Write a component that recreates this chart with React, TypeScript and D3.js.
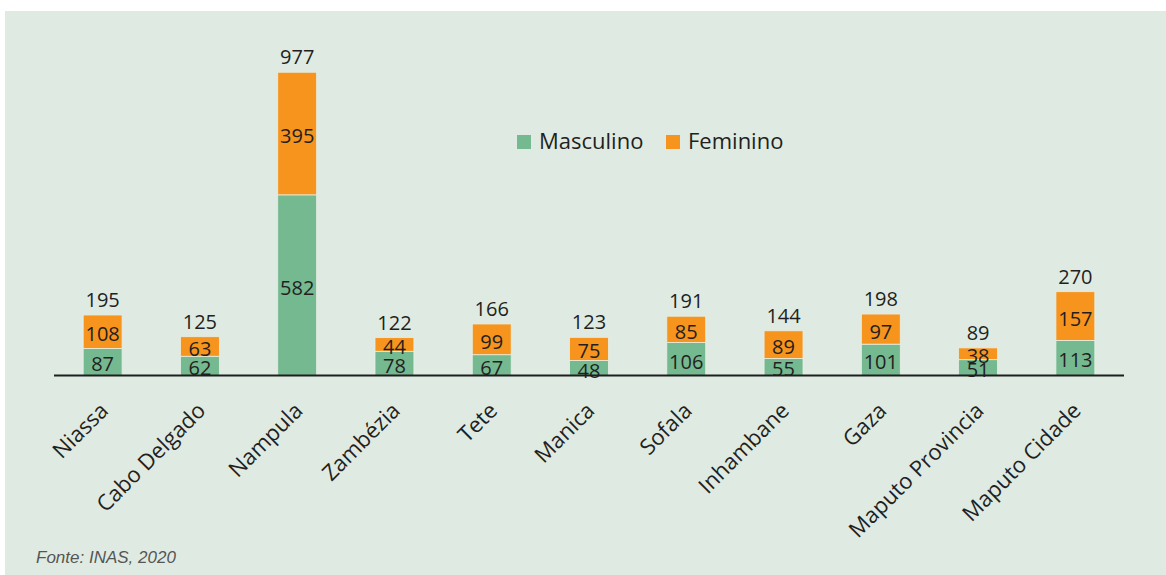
import React from "react";
import * as d3 from "d3";

const categories = [
  "Niassa",
  "Cabo Delgado",
  "Nampula",
  "Zambézia",
  "Tete",
  "Manica",
  "Sofala",
  "Inhambane",
  "Gaza",
  "Maputo Provincia",
  "Maputo Cidade",
];
const masculino = [87, 62, 582, 78, 67, 48, 106, 55, 101, 51, 113];
const feminino = [108, 63, 395, 44, 99, 75, 85, 89, 97, 38, 157];
const totals = [195, 125, 977, 122, 166, 123, 191, 144, 198, 89, 270];
const seriesNames = ["Masculino", "Feminino"];
const seriesColors = ["#75b991", "#f7941d"];
const sourceText = "Fonte: INAS, 2020";

const W = 1166;
const H = 575;
const baseY = 375.5;
const numFont = "'Open Sans', 'DejaVu Sans', sans-serif";

export default function App() {
  const x = d3
    .scaleBand<string>()
    .domain(categories)
    .range([54, 1124])
    .paddingInner(0.6)
    .paddingOuter(0.3);
  const y = d3.scaleLinear().domain([0, 1000]).range([baseY, baseY - 310.4]);

  const rows = categories.map((c, i) => ({
    cat: c,
    Masculino: masculino[i],
    Feminino: feminino[i],
    total: totals[i],
  }));
  const stack = d3.stack<any>().keys(seriesNames)(rows);
  const bw = x.bandwidth();

  return (
    <svg
      width={W}
      height={H}
      style={{ position: "absolute", left: 0, top: 0, display: "block" }}
    >
      <rect x={0} y={0} width={W} height={H} fill="#ffffff" />
      <rect x={5} y={11} width={W - 5} height={H - 11} fill="#dfebe2" />

      {stack.map((s, si) => (
        <g key={s.key}>
          {s.map((d, i) => {
            const y0 = y(d[0]);
            const y1 = y(d[1]);
            const mid = (y0 + y1) / 2;
            return (
              <g key={i}>
                <rect
                  x={x(categories[i])!}
                  y={y1}
                  width={bw}
                  height={y0 - y1}
                  fill={seriesColors[si]}
                  stroke="#e6efe4"
                  strokeWidth={0.8}
                />
                <text
                  x={x(categories[i])! + bw / 2}
                  y={mid + 9.5}
                  textAnchor="middle"
                  fontFamily={numFont}
                  fontSize={20}
                  fill="#231f20"
                >
                  {(d[1] - d[0]).toString()}
                </text>
              </g>
            );
          })}
        </g>
      ))}

      {rows.map((r, i) => (
        <text
          key={"t" + i}
          x={x(r.cat)! + bw / 2}
          y={y(r.total) - 8}
          textAnchor="middle"
          fontFamily={numFont}
          fontSize={20}
          fill="#231f20"
        >
          {r.total}
        </text>
      ))}

      <line x1={54} x2={1124} y1={baseY} y2={baseY} stroke="#1e1e1e" strokeWidth={2} />

      {categories.map((c, i) => (
        <text
          key={"c" + i}
          transform={`translate(${x(c)! + bw / 2 + 7},${412}) rotate(-45)`}
          textAnchor="end"
          fontFamily={numFont}
          fontSize={22}
          fill="#231f20"
        >
          {c}
        </text>
      ))}

      {seriesNames.map((n, i) => {
        const lx = [517, 666][i];
        return (
          <g key={"l" + n}>
            <rect x={lx} y={135} width={14} height={14} fill={seriesColors[i]} />
            <text
              x={lx + 22}
              y={149}
              fontFamily={numFont}
              fontSize={22}
              fill="#231f20"
            >
              {n}
            </text>
          </g>
        );
      })}

      <text
        x={36}
        y={563}
        fontFamily="'Liberation Sans', Arial, sans-serif"
        fontStyle="italic"
        fontSize={17}
        fill="#555555"
      >
        {sourceText}
      </text>
    </svg>
  );
}
